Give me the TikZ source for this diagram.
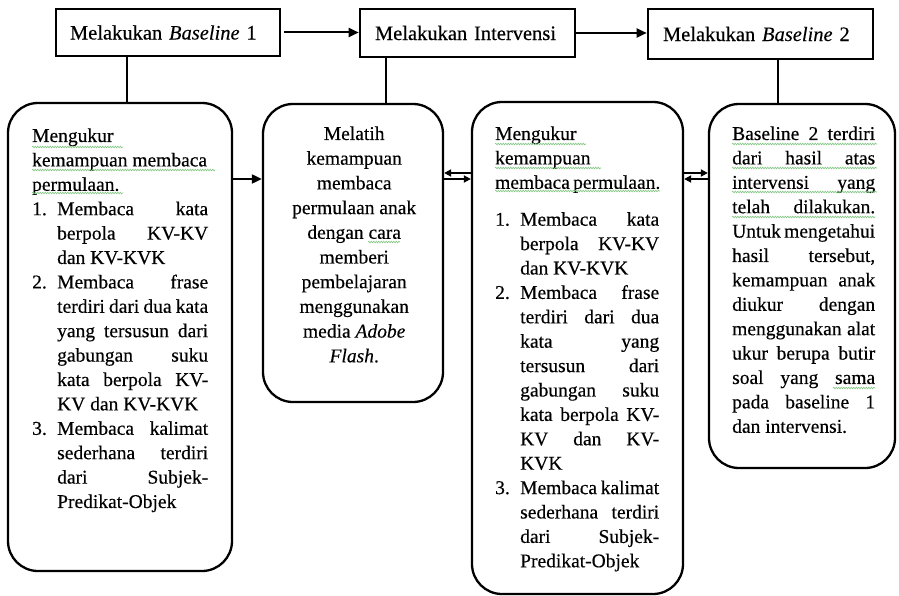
\documentclass[tikz,border=0pt]{standalone}
\usepackage{fontspec}
\setmainfont{Liberation Serif}[FakeBold=0.35, ItalicFont={Liberation Serif Italic}, ItalicFeatures={FakeBold=0.2}]
\usetikzlibrary{arrows.meta,calc,decorations.pathmorphing}
\newcommand\lnL[1]{\hbox to\hsize{#1\hfil}}
\newcommand\lnJ[1]{\hbox to\hsize{#1}}
\newcommand\lnC[1]{\hbox to\hsize{\hfil#1\hfil}}
\newcommand\lnN[2]{\hbox to\hsize{\hbox to25pt{#1\hfil}\hbox to\dimexpr\hsize-25pt\relax{#2}}}
\newcommand\lnI[1]{\hbox to\hsize{\hskip25pt\hbox to\dimexpr\hsize-25pt\relax{#1}}}
\newcommand\lnIL[1]{\hbox to\hsize{\hskip25pt #1\hfil}}
\newcommand\myBody{\fontsize{19.5}{24.4}\selectfont}
\begin{document}
\begin{tikzpicture}[x=1pt,y=-1pt,
 topbox/.style={draw, line width=2.6pt, inner sep=0pt, align=left, font=\fontsize{20.5}{24}\selectfont},
 rbox/.style={draw, line width=2.3pt, rounded corners=30pt, inner sep=0pt},
 conn/.style={line width=2pt},
 arr/.style={line width=2pt, -{Triangle[length=10pt,width=9pt]}},
 sarr/.style={line width=1.8pt, -{Triangle[length=7pt,width=7pt]}},
 txt/.style={anchor=base west, inner sep=0pt},
 squig/.style={draw=green!55!black!50, line width=0.6pt, decorate, decoration={snake, amplitude=0.8pt, segment length=2.5pt}}]
\useasboundingbox (0,0) rectangle (899,596);
\fill[white] (0,0) rectangle (899,596);

% top boxes
\node[topbox, minimum width=224pt, minimum height=47pt, text width=196pt] (A) at (168,32.5) {Melakukan \textit{Baseline} 1};
\node[topbox, minimum width=215pt, minimum height=48pt, text width=185pt] (B) at (467.5,33) {Melakukan Intervensi};
\node[topbox, minimum width=225pt, minimum height=50pt, text width=195pt] (C) at (760.5,34) {Melakukan \textit{Baseline} 2};

% rounded boxes
\node[rbox, minimum width=224pt, minimum height=468pt] (b1) at (120,337) {};
\node[rbox, minimum width=180pt, minimum height=298pt] (b2) at (353,253) {};
\node[rbox, minimum width=211pt, minimum height=492pt] (b3) at (577.5,348) {};
\node[rbox, minimum width=186pt, minimum height=364pt] (b4) at (802,286) {};

% connectors
\draw[arr, shorten <=3pt] (A.east) -- (A.east -| B.west);
\draw[arr] (B.east) -- (B.east -| C.west);
\coordinate (a1) at ($(A.south west)+(72,0)$);
\coordinate (bb) at ($(B.south west)+(27,0)$);
\coordinate (cc) at ($(C.south west)+(131,0)$);
\draw[conn] (a1) -- (a1 |- b1.north);
\draw[conn] (bb) -- (bb |- b2.north);
\draw[conn] (cc) -- (cc |- b4.north);
\coordinate (y179) at (0,179);
\coordinate (y173) at (0,173);
\draw[arr] (b1.east |- y179) -- (b2.west |- y179);
\draw[sarr] (b3.west |- y173) -- (b2.east |- y173);
\draw[sarr] (b2.east |- y179) -- (b3.west |- y179);
\draw[sarr] (b3.east |- y173) -- (b4.west |- y173);
\draw[sarr] (b4.west |- y179) -- (b3.east |- y179);

% texts
\node[txt] (t1) at (32,142) {\begin{minipage}[t]{176pt}\myBody
\lnL{Mengukur}
\lnL{kemampuan membaca}
\lnL{permulaan.}
\lnN{1.}{Membaca kata}
\lnI{berpola KV-KV}
\lnIL{dan KV-KVK}
\lnN{2.}{Membaca frase}
\lnI{terdiri dari dua kata}
\lnI{yang tersusun dari}
\lnI{gabungan suku}
\lnI{kata berpola KV-}
\lnIL{KV dan KV-KVK}
\lnN{3.}{Membaca kalimat}
\lnI{sederhana terdiri}
\lnI{dari Subjek-}
\lnIL{Predikat-Objek}
\end{minipage}};

\node[txt] (t2) at (264,140) {\begin{minipage}[t]{180pt}\fontsize{19.5}{24.7}\selectfont
\lnC{Melatih}
\lnC{kemampuan}
\lnC{membaca}
\lnC{permulaan anak}
\lnC{dengan cara}
\lnC{memberi}
\lnC{pembelajaran}
\lnC{menggunakan}
\lnC{media \textit{Adobe}}
\lnC{\textit{Flash}.}
\end{minipage}};

\node[txt] (t3) at (495,140) {\begin{minipage}[t]{164pt}\myBody
\lnL{Mengukur}
\lnL{kemampuan}
\lnL{membaca permulaan.}
\vskip12.5pt
\lnN{1.}{Membaca kata}
\lnI{berpola KV-KV}
\lnIL{dan KV-KVK}
\lnN{2.}{Membaca frase}
\lnI{terdiri dari dua}
\lnI{kata yang}
\lnI{tersusun dari}
\lnI{gabungan suku}
\lnI{kata berpola KV-}
\lnI{KV dan KV-}
\lnIL{KVK}
\lnN{3.}{Membaca kalimat}
\lnI{sederhana terdiri}
\lnI{dari Subjek-}
\lnIL{Predikat-Objek}
\end{minipage}};

\node[txt] (t4) at (732,140) {\begin{minipage}[t]{143pt}\myBody
\lnJ{Baseline 2 terdiri}
\lnJ{dari hasil atas}
\lnJ{intervensi yang}
\lnJ{telah dilakukan.}
\lnJ{Untuk mengetahui}
\lnJ{hasil tersebut,}
\lnJ{kemampuan anak}
\lnJ{diukur dengan}
\lnJ{menggunakan alat}
\lnJ{ukur berupa butir}
\lnJ{soal yang sama}
\lnJ{pada baseline 1}
\lnL{dan intervensi.}
\end{minipage}};

% spell-check squiggles
\draw[squig] (32,147) -- (123,147);
\draw[squig] (32,170) -- (215,170);
\draw[squig] (32,193) -- (123,193);
\draw[squig] (368,242) -- (400,242);
\draw[squig] (495,144) -- (586,144);
\draw[squig] (495,168) -- (601,168);
\draw[squig] (495,191) -- (660,191);
\draw[squig] (732,144) -- (877,144);
\draw[squig] (732,168) -- (877,168);
\draw[squig] (732,192) -- (877,192);
\draw[squig] (732,217) -- (875,217);
\draw[squig] (833,388) -- (875,388);
\end{tikzpicture}
\end{document}
